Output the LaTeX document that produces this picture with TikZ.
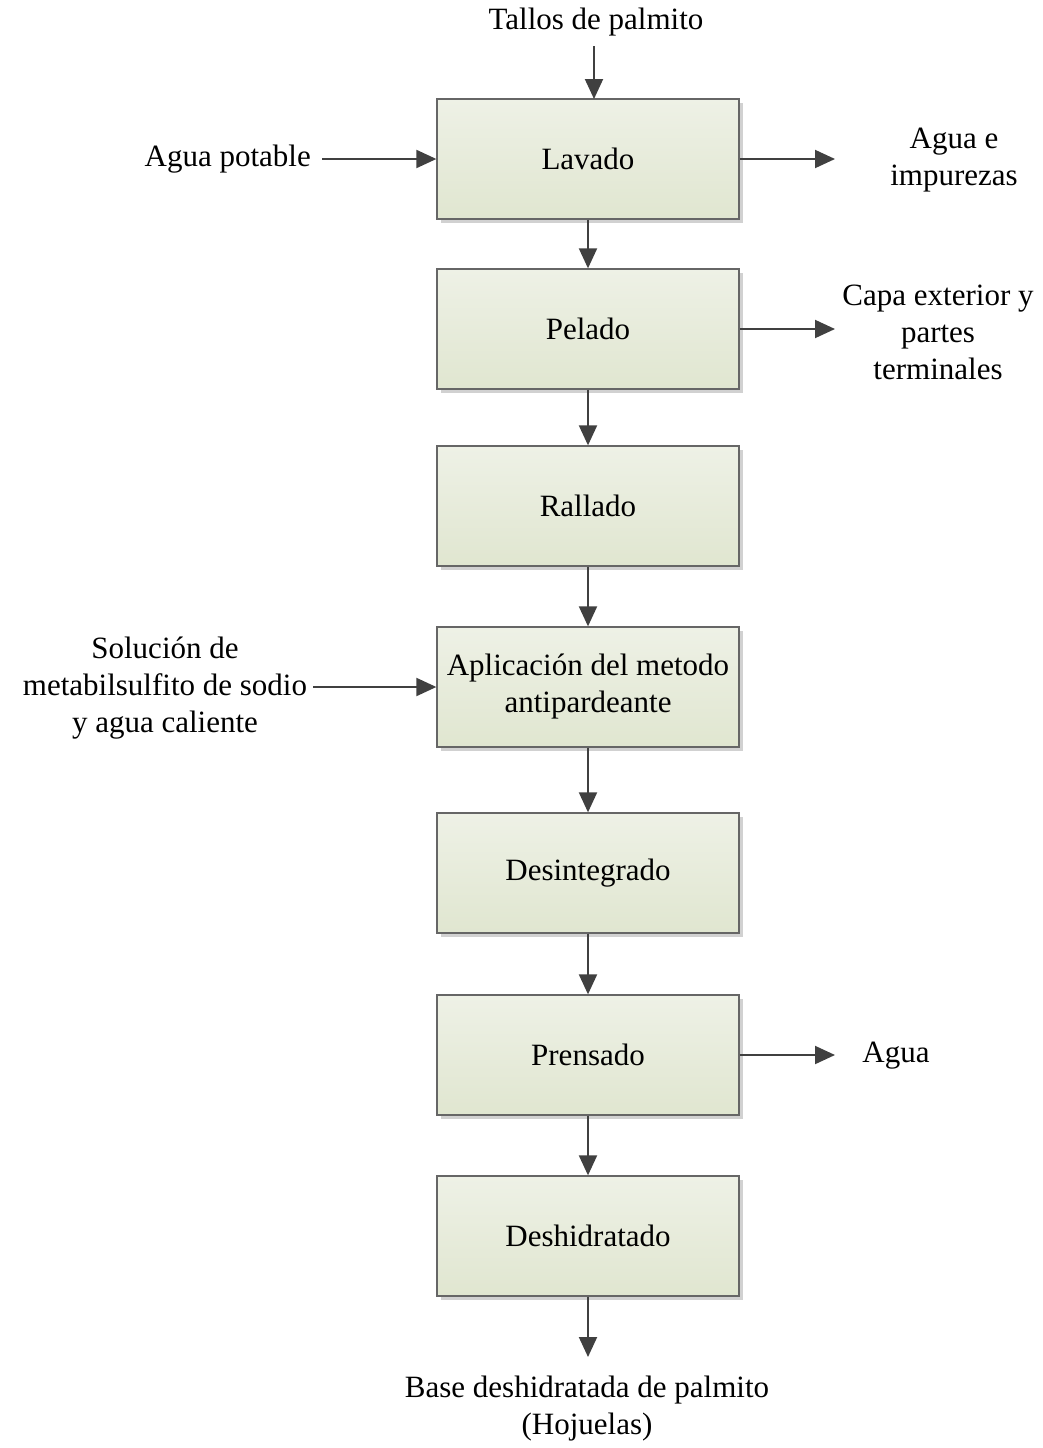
\documentclass[tikz,border=0pt]{standalone}
\usepackage{fontspec}
\setmainfont{Liberation Serif}
\usetikzlibrary{arrows.meta,shadows}
\begin{document}
\begin{tikzpicture}[x=1pt,y=-1pt,
  every node/.style={font=\fontsize{31}{37}\selectfont, text=black},
  procbox/.style={draw=black!60, line width=1.3pt, minimum width=302pt, minimum height=120pt,
    inner sep=0pt, align=center, top color=boxtop, bottom color=boxbot,
    drop shadow={shadow xshift=4pt, shadow yshift=-4pt, fill=black!18, opacity=1}},
  lbl/.style={inner sep=0pt, align=center},
  flow/.style={draw=black!75, line width=2pt, -{Triangle[length=20pt,width=18pt]}}
]
\definecolor{boxtop}{HTML}{EEF1E6}
\definecolor{boxbot}{HTML}{E0E6D0}
\useasboundingbox (0,0) rectangle (1042,1448);

% boxes
\node[procbox] (lav) at (588,159) {Lavado};
\node[procbox] (pel) at (588,329) {Pelado};
\node[procbox] (ral) at (588,506) {Rallado};
\node[procbox] (apl) at (588,687) {Aplicación del metodo\\antipardeante};
\node[procbox] (des) at (588,873) {Desintegrado};
\node[procbox] (pre) at (588,1055) {Prensado};
\node[procbox] (deh) at (588,1236) {Deshidratado};

% labels
\node[lbl] (tal) at (596,22) {Tallos de palmito};
\node[lbl, anchor=east] (agp) at (311,159) {Agua potable};
\node[lbl] (agi) at (954,160) {Agua e\\impurezas};
\node[lbl] (cap) at (938,332) {Capa exterior y\\partes\\terminales};
\node[lbl] (sol) at (165,688) {Solución de\\metabilsulfito de sodio\\y agua caliente};
\node[lbl] (agu) at (896,1056) {Agua};
\node[lbl] (bas) at (587,1409) {Base deshidratada de palmito\\(Hojuelas)};

% free ends
\coordinate (talin) at (594,46);
\coordinate (talend) at (594,99);
\coordinate (agpin) at (322,159);
\coordinate (lavout) at (835,159);
\coordinate (pelout) at (835,329);
\coordinate (solin) at (313,687);
\coordinate (preout) at (835,1055);
\coordinate (dehout) at (588,1357);

% connectors
\draw[flow] (talin) -- (talend);
\draw[flow] (agpin) -- (lav.west);
\draw[flow] (lav.east) -- (lavout);
\draw[flow] (lav.south) -- (pel.north);
\draw[flow] (pel.east) -- (pelout);
\draw[flow] (pel.south) -- (ral.north);
\draw[flow] (ral.south) -- (apl.north);
\draw[flow] (solin) -- (apl.west);
\draw[flow] (apl.south) -- (des.north);
\draw[flow] (des.south) -- (pre.north);
\draw[flow] (pre.east) -- (preout);
\draw[flow] (pre.south) -- (deh.north);
\draw[flow] (deh.south) -- (dehout);
\end{tikzpicture}
\end{document}
